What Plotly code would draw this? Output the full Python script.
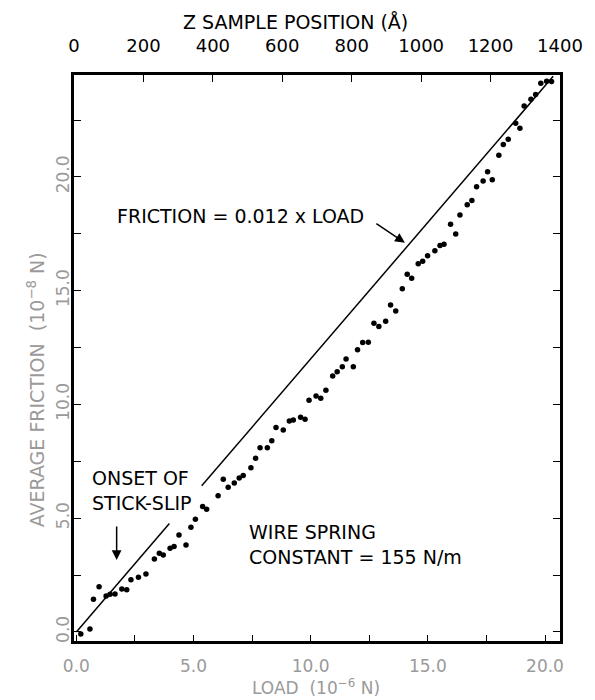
import plotly.graph_objects as go

# ---- data ----
load = [0.19, 0.58, 0.73, 0.97, 1.27, 1.44, 1.65, 1.94, 2.15, 2.33, 2.65, 2.97,
        3.33, 3.54, 3.71, 4.00, 4.17, 4.38, 4.68, 4.89, 5.08, 5.39, 5.56, 6.05,
        6.27, 6.48, 6.74, 6.95, 7.12, 7.45, 7.65, 7.84, 8.15, 8.34, 8.52, 8.83,
        9.09, 9.26, 9.57, 9.76, 9.93, 10.23, 10.43, 10.65, 10.94, 11.13, 11.35,
        11.51, 11.82, 12.00, 12.22, 12.46, 12.70, 12.91, 13.20, 13.41, 13.63,
        13.91, 14.12, 14.31, 14.59, 14.78, 14.99, 15.30, 15.52, 15.69, 15.97,
        16.19, 16.37, 16.68, 16.88, 17.08, 17.36, 17.55, 17.75, 18.03, 18.22,
        18.43, 18.75, 18.93, 19.11, 19.40, 19.60, 19.82, 20.07, 20.28]
friction = [-0.09, 0.13, 1.44, 1.99, 1.58, 1.66, 1.67, 1.89, 1.85, 2.29, 2.40, 2.55,
            3.21, 3.46, 3.38, 3.68, 3.75, 4.26, 3.82, 4.60, 4.95, 5.51, 5.39, 5.98,
            6.71, 6.36, 6.54, 6.76, 6.87, 7.22, 7.63, 8.10, 8.10, 8.40, 8.98, 8.88,
            9.27, 9.32, 9.44, 9.35, 10.18, 10.37, 10.27, 10.62, 11.25, 11.44, 11.66,
            12.00, 11.65, 12.40, 12.72, 12.73, 13.57, 13.42, 13.66, 14.37, 14.11,
            15.08, 15.72, 15.55, 16.18, 16.29, 16.53, 16.75, 16.98, 17.04, 17.92,
            17.49, 18.33, 18.78, 18.96, 19.57, 19.82, 20.23, 19.87, 20.95, 21.42,
            21.66, 22.36, 22.14, 23.12, 23.41, 23.62, 24.12, 24.20, 24.19]

# Reference line: FRICTION = 0.012 x LOAD  (1.2 in these units), drawn in two pieces
slope = 1.2
fit_seg1_x = [0.0, 3.97]
fit_seg2_x = [5.35, 20.35]

x_ticks = [0, 2.5, 5, 7.5, 10, 12.5, 15, 17.5, 20]
x_ticktext = ["0.0", "", "5.0", "", "10.0", "", "15.0", "", "20.0"]
y_ticks = [0, 2.5, 5, 7.5, 10, 12.5, 15, 17.5, 20, 22.5]
y_ticktext = ["0.0", "", "5.0", "", "10.0", "", "15.0", "", "20.0", ""]
z_ticks = [0, 200, 400, 600, 800, 1000, 1200, 1400]

FONT = "DejaVu Sans"
GRAY = "#9a9a9a"

fig = go.Figure()
for seg in (fit_seg1_x, fit_seg2_x):
    fig.add_trace(go.Scatter(x=seg, y=[slope * v for v in seg], mode="lines",
                             line=dict(color="black", width=1.5),
                             showlegend=False, hoverinfo="skip"))
fig.add_trace(go.Scatter(x=load, y=friction, mode="markers",
                         marker=dict(color="black", size=5.5),
                         showlegend=False))
# invisible trace to carry the top axis
fig.add_trace(go.Scatter(x=[z_ticks[0], z_ticks[-1]], y=[None, None], xaxis="x2",
                         mode="markers", showlegend=False, hoverinfo="skip"))

# the page body adds an 8px margin, so the figure is 8px smaller on each axis
fig.update_layout(
    width=587, height=692,
    margin=dict(l=66, r=35, t=67, b=59, autoexpand=False),
    paper_bgcolor="white", plot_bgcolor="white",
    font=dict(family=FONT, color="black"),
    xaxis=dict(range=[-0.1, 20.64], showgrid=False, zeroline=False,
               automargin=False,
               showline=True, linecolor="black", linewidth=2.6, mirror=True,
               tickvals=x_ticks, ticktext=x_ticktext, ticks="inside",
               ticklen=6, tickwidth=1, tickcolor="black",
               tickfont=dict(size=17, color=GRAY, family=FONT),
               ticklabelstandoff=8),
    xaxis2=dict(range=[0, 1400], overlaying="x", side="top", anchor="y",
                automargin=False,
                showgrid=False, zeroline=False, showline=False,
                tickvals=z_ticks, ticks="inside", ticklen=7, tickwidth=1,
                tickcolor="black", ticklabelstandoff=18,
                tickfont=dict(size=18, color="black", family=FONT)),
    yaxis=dict(range=[-0.4, 24.48], showgrid=False, zeroline=False,
               automargin=False,
               showline=True, linecolor="black", linewidth=2.6, mirror="ticks",
               tickvals=y_ticks, ticktext=y_ticktext, ticks="inside",
               ticklen=7, tickwidth=1, tickcolor="black", tickangle=-90,
               tickfont=dict(size=17, color=GRAY, family=FONT),
               ticklabelstandoff=-5),
)

annotations = [
    dict(text="Z SAMPLE POSITION (Å)", xref="paper", yref="paper",
         x=0.455, y=1.0, yshift=53, xanchor="center", yanchor="middle",
         showarrow=False, font=dict(size=19, color="black", family=FONT)),
    dict(text="LOAD  (10<sup>−6</sup> N)", xref="paper", yref="paper",
         x=0.498, y=0.0, yshift=-46, xanchor="center", yanchor="middle",
         showarrow=False, font=dict(size=17, color=GRAY, family=FONT)),
    dict(text="AVERAGE FRICTION  (10<sup>−8</sup> N)", xref="paper", yref="paper",
         x=0.0, xshift=-38, y=0.443, xanchor="center", yanchor="middle",
         textangle=-90, showarrow=False,
         font=dict(size=19, color=GRAY, family=FONT)),
    dict(text="FRICTION = 0.012 x LOAD", x=1.66, y=18.3, xanchor="left",
         yanchor="middle", showarrow=False,
         font=dict(size=19, color="black", family=FONT)),
    dict(text="", x=14.02, y=17.11, ax=12.74, ay=17.99, axref="x", ayref="y",
         showarrow=True, arrowhead=2, arrowsize=1.3, arrowwidth=1.5,
         arrowcolor="black"),
    dict(text="ONSET OF<br>STICK-SLIP", x=0.58, y=6.2, xanchor="left",
         yanchor="middle", align="left", showarrow=False,
         font=dict(size=19, color="black", family=FONT)),
    dict(text="", x=1.72, y=3.16, ax=1.72, ay=4.70, axref="x", ayref="y",
         showarrow=True, arrowhead=2, arrowsize=1.3, arrowwidth=1.5,
         arrowcolor="black"),
    dict(text="WIRE SPRING<br>CONSTANT = 155 N/m", x=7.28, y=3.85,
         xanchor="left", yanchor="middle", align="left", showarrow=False,
         font=dict(size=19, color="black", family=FONT)),
]
fig.update_layout(annotations=annotations)

fig.write_html("out.html")
